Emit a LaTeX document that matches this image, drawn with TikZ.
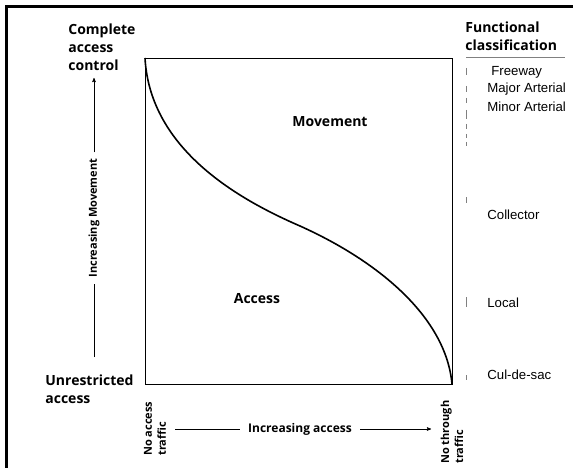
\documentclass[tikz,border=0pt]{standalone}
\usepackage{fontspec}
\usepackage{tikz}
\usetikzlibrary{arrows}
\newfontfamily\headfont{Open Sans}
\newfontfamily\classfont{Liberation Sans}

\begin{document}
\begin{tikzpicture}[x=1pt,y=-1pt,>=stealth',
  thick,head node/.style={font=\headfont\bfseries\fontsize{14}{18}\selectfont,
    align=left,inner sep=0pt},
  axis node/.style={font=\headfont\bfseries\fontsize{11}{14}\selectfont,
    align=left,inner sep=0pt},
  class node/.style={font=\classfont\fontsize{13.2}{15}\selectfont,
    anchor=west,inner sep=0pt},
  tickmark/.style={gray,thin}]

  \useasboundingbox (0,0) rectangle (573,468);
  \draw[line width=3pt] (6.5,468) -- (6.5,6.5) -- (573,6.5);

  % chart frame and curve
  \coordinate (tl) at (145,58);
  \coordinate (br) at (452,384);
  \draw[semithick] (tl) rectangle (br);
  \draw[line width=1.6pt] (tl) .. controls (150,150) and (240,200) .. (300,226)
    .. controls (380,262) and (446,318) .. (br);

  \node[head node] (move) at (330,122) {Movement};
  \node[head node] (acc) at (257,299) {Access};

  % vertical axis
  \node[head node,anchor=west] (ctrl) at (68,47) {Complete\\access\\control};
  \node[head node,anchor=west] (unres) at (45,389) {Unrestricted\\access};
  \node[axis node,rotate=90,inner xsep=6pt] (incmove) at (94,218) {Increasing Movement};
  \coordinate (movelo) at (94,357);
  \coordinate (movehi) at (94,78);
  \draw[semithick] (movelo) -- (incmove.west);
  \draw[semithick,->] (incmove.east) -- (movehi);

  % horizontal axis
  \node[axis node,rotate=90,anchor=west] (noacc) at (155,456) {No access\\traffic};
  \node[axis node,rotate=90,anchor=west] (nothru) at (452,464) {No through\\traffic};
  \node[axis node,font=\headfont\bfseries\fontsize{12}{14}\selectfont,inner xsep=8pt]
    (incacc) at (300,429) {Increasing access};
  \coordinate (accst) at (175,429);
  \coordinate (accend) at (431,429);
  \draw[semithick] (accst) -- (incacc.west);
  \draw[semithick,->] (incacc.east) -- (accend);

  % functional classification
  \node[head node,anchor=west] (fclass) at (465,36) {Functional\\classification};
  \draw[gray,thin] (466,57) -- (565,57);
  \foreach \ya/\yb in {68/75,86/92,98/103,110/119,124/129,134/138,142/146,
    197/203,297/307,375/380}
    \draw[tickmark] (466,\ya) -- (466,\yb);

  \node[class node] (fwy) at (491,72) {Freeway};
  \node[class node] (major) at (487,89) {Major Arterial};
  \node[class node] (minor) at (487,107) {Minor Arterial};
  \node[class node] (coll) at (487,215) {Collector};
  \node[class node] (local) at (487,303) {Local};
  \node[class node] (cds) at (487,375) {Cul-de-sac};
\end{tikzpicture}
\end{document}
